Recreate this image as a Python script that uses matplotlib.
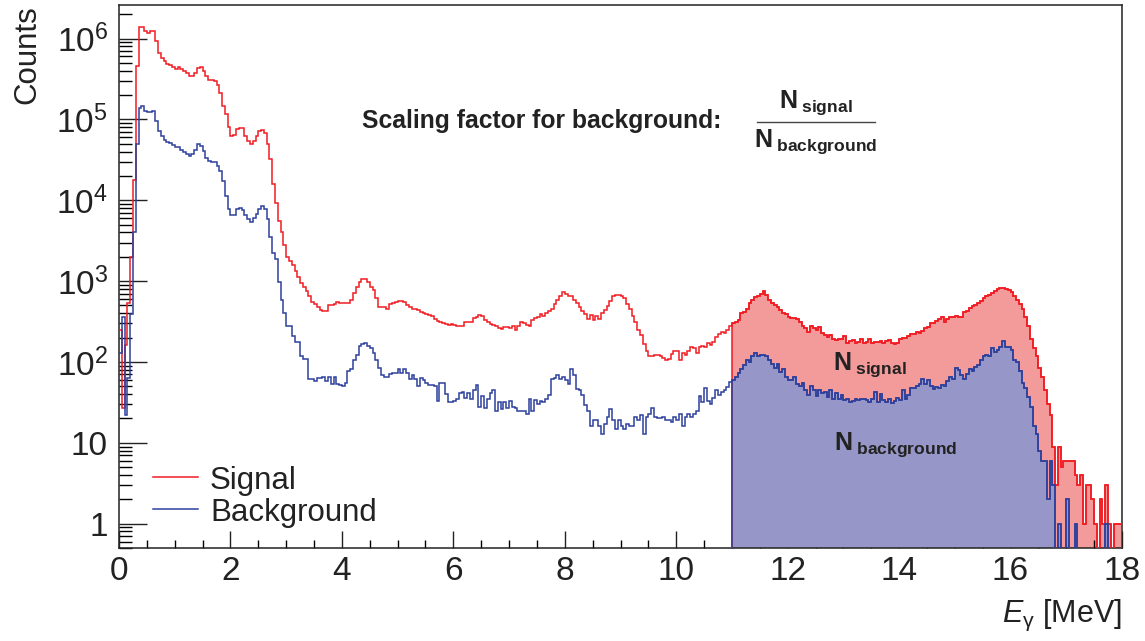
import numpy as np
import matplotlib
matplotlib.use("Agg")
import matplotlib.pyplot as plt
from matplotlib import font_manager
from matplotlib.lines import Line2D
from matplotlib.ticker import LogLocator, MultipleLocator, NullFormatter

# ---------------------------------------------------------------- data
E_MIN, E_MAX, BIN_WIDTH = 0.0, 18.0, 0.05
WINDOW_START = 11.0          # integration window used for the scaling factor

# photon-energy spectra, 0.05 MeV bins from 0 to 18 MeV (20 bins per row = 1 MeV)
signal_counts = [
    250, 27, 160, 540, 2000, 18000, 460000, 1370000, 1370000, 1250000, 1180000, 1250000, 1250000, 930000, 670000, 580000, 530000, 490000, 470000, 440000,
    420000, 440000, 420000, 400000, 370000, 340000, 340000, 370000, 430000, 440000, 400000, 340000, 310000, 305000, 300000, 263000, 214000, 148000, 115000, 81000,
    62000, 65000, 76000, 79000, 79000, 63000, 54000, 49000, 54000, 62000, 72000, 74000, 68000, 49000, 32000, 16000, 9300, 5500, 4000, 2800,
    2000, 1780, 1580, 1320, 1120, 950, 850, 760, 660, 550, 525, 480, 440, 425, 425, 500, 500, 525, 550, 535,
    535, 535, 535, 590, 710, 850, 980, 1050, 1050, 980, 850, 775, 615, 480, 480, 480, 457, 525, 535, 550,
    560, 575, 550, 500, 480, 457, 447, 437, 417, 398, 389, 380, 372, 339, 324, 316, 302, 295, 288, 295,
    288, 275, 275, 275, 316, 309, 316, 347, 355, 380, 372, 331, 309, 295, 288, 275, 263, 257, 269, 269,
    263, 275, 245, 275, 309, 302, 288, 275, 331, 347, 355, 389, 372, 407, 427, 457, 525, 589, 646, 724,
    692, 661, 646, 589, 537, 479, 427, 389, 339, 380, 331, 372, 339, 398, 437, 490, 575, 646, 676, 676,
    646, 617, 525, 447, 372, 309, 251, 214, 166, 135, 117, 117, 123, 123, 117, 112, 107, 110, 126, 138,
    138, 107, 129, 123, 135, 151, 148, 129, 151, 158, 151, 170, 162, 178, 204, 219, 234, 229, 251, 275,
    302, 316, 331, 398, 417, 457, 537, 589, 631, 661, 692, 759, 676, 589, 537, 501, 479, 437, 398, 389,
    355, 347, 347, 339, 316, 282, 263, 234, 275, 263, 245, 269, 229, 214, 204, 214, 191, 186, 195, 195,
    209, 174, 182, 186, 170, 178, 191, 174, 178, 195, 174, 178, 178, 182, 174, 182, 186, 174, 166, 174,
    195, 200, 200, 209, 219, 224, 234, 229, 240, 263, 269, 302, 302, 324, 339, 355, 309, 339, 355, 355,
    372, 355, 363, 417, 427, 468, 490, 501, 537, 575, 617, 646, 676, 708, 759, 794, 813, 813, 794, 776,
    724, 646, 589, 525, 457, 355, 275, 195, 148, 117, 85, 66, 45, 30, 22, 9, 3, 9, 5, 6,
    6, 6, 6, 4, 3, 4, 1, 3, 3, 2, 1, 0, 2, 1, 3, 1, 0, 1, 1, 1,
]

background_counts = [
    130, 360, 22, 63, 390, 4000, 49000, 138000, 148000, 126000, 123000, 123000, 126000, 95000, 72000, 62000, 56000, 52000, 51000, 48000,
    45000, 45000, 42000, 40000, 37000, 35500, 37000, 42000, 49000, 47000, 41000, 33000, 31000, 30000, 29500, 26300, 22900, 17400, 11200, 7900,
    6500, 6600, 7800, 8100, 7600, 6600, 5800, 5400, 6000, 6800, 7800, 8500, 7700, 5800, 3500, 2240, 1900, 980, 590, 400,
    275, 275, 209, 178, 178, 117, 110, 110, 62, 62, 58, 63, 63, 65, 58, 65, 54, 65, 54, 52,
    50, 55, 78, 81, 105, 123, 158, 166, 170, 158, 148, 129, 107, 85, 69, 65, 66, 71, 72, 72,
    83, 74, 83, 72, 62, 69, 62, 50, 63, 60, 55, 52, 52, 50, 33, 55, 55, 40, 32, 32,
    33, 35, 41, 42, 36, 41, 35, 45, 52, 28, 38, 27, 35, 41, 45, 25, 32, 26, 32, 27,
    33, 28, 27, 25, 25, 25, 23, 35, 25, 34, 30, 33, 32, 35, 39, 62, 63, 69, 62, 66,
    60, 54, 81, 69, 46, 45, 39, 29, 25, 16, 19, 19, 16, 13, 17, 21, 26, 19, 15, 19,
    16, 15, 17, 16, 16, 21, 19, 22, 13, 21, 23, 27, 21, 20, 20, 21, 19, 19, 18, 21,
    19, 23, 16, 21, 23, 21, 23, 25, 38, 32, 47, 33, 30, 36, 45, 39, 43, 45, 49, 56,
    60, 65, 74, 81, 91, 105, 100, 117, 129, 117, 123, 123, 117, 105, 95, 85, 95, 76, 83, 66,
    60, 60, 65, 54, 50, 55, 45, 39, 50, 45, 38, 45, 41, 43, 37, 45, 35, 41, 35, 39,
    34, 35, 32, 33, 35, 34, 35, 35, 34, 32, 35, 42, 32, 40, 34, 32, 35, 31, 33, 36,
    34, 45, 35, 39, 47, 47, 50, 54, 62, 54, 60, 50, 46, 49, 47, 52, 50, 58, 66, 62,
    85, 79, 69, 62, 71, 81, 78, 87, 91, 107, 117, 123, 117, 148, 132, 141, 155, 182, 155, 155,
    141, 105, 100, 78, 55, 47, 37, 28, 16, 13, 8, 6, 6, 2, 6, 3, 0, 1, 0, 0,
    2, 0, 0, 1, 0, 0, 0, 0, 0, 0, 0, 0, 0, 0, 1, 0, 0, 0, 0, 0,
]

x_ticks = [0, 2, 4, 6, 8, 10, 12, 14, 16, 18]
y_ticks = [1, 10, 1e2, 1e3, 1e4, 1e5, 1e6]
y_tick_labels = ["1", "10", r"$10^{2}$", r"$10^{3}$", r"$10^{4}$", r"$10^{5}$", r"$10^{6}$"]
legend_labels = ["Signal", "Background"]

# ---------------------------------------------------------------- style
SIG_LINE, SIG_FILL = "#f01c22", "#f39a9a"
BKG_LINE, BKG_FILL = "#2d409c", "#9696c8"
W, H = 1145, 641


def available(name):
    try:
        font_manager.findfont(font_manager.FontProperties(family=name),
                              fallback_to_default=False)
        return True
    except ValueError:
        return False


BASE = "Liberation Sans" if available("Liberation Sans") else "DejaVu Sans"
NARROW = "Liberation Sans Narrow" if available("Liberation Sans Narrow") else BASE

plt.rcParams["font.family"] = [BASE, "DejaVu Sans"]
plt.rcParams["mathtext.fontset"] = "custom"
plt.rcParams["mathtext.rm"] = NARROW
plt.rcParams["mathtext.it"] = BASE + ":italic"
plt.rcParams["mathtext.bf"] = BASE + ":bold"


def fx(px):
    return px / W


def fy(py):
    return 1 - py / H


fig = plt.figure(figsize=(W / 100, H / 100), dpi=100)
ax = fig.add_axes([fx(119), fy(548), fx(1122) - fx(119), fy(5) - fy(548)])

# ---------------------------------------------------------------- histograms
sig = np.asarray(signal_counts, dtype=float)
bkg = np.asarray(background_counts, dtype=float)
edges = E_MIN + BIN_WIDTH * np.arange(len(sig) + 1)
floor = 1e-3                      # empty bins drop below the visible range
sig_d = np.where(sig > 0, sig, floor)
bkg_d = np.where(bkg > 0, bkg, floor)
i0 = int(round((WINDOW_START - E_MIN) / BIN_WIDTH))

ax.stairs(sig_d[i0:], edges[i0:], baseline=floor, fill=True, color=SIG_FILL, lw=0, zorder=1)
ax.stairs(bkg_d[i0:], edges[i0:], baseline=floor, fill=True, color=BKG_FILL, lw=0, zorder=2)
ax.stairs(sig_d[i0:], edges[i0:], baseline=floor, color=SIG_LINE, lw=1.1, zorder=3)
ax.stairs(sig_d, edges, baseline=None, color=SIG_LINE, lw=1.1, zorder=3)
ax.stairs(bkg_d[i0:], edges[i0:], baseline=floor, color=BKG_LINE, lw=1.1, zorder=4)
ax.stairs(bkg_d, edges, baseline=None, color=BKG_LINE, lw=1.1, zorder=4)

# ---------------------------------------------------------------- axes
ax.set_yscale("log")
ax.set_xlim(E_MIN, E_MAX)
ax.set_ylim(0.5, 2.6e6)

ax.set_xticks(x_ticks)
ax.set_xticklabels([str(t) for t in x_ticks], fontfamily=NARROW, fontsize=24)
ax.xaxis.set_minor_locator(MultipleLocator(0.5))
ax.set_yticks(y_ticks)
ax.set_yticklabels(y_tick_labels, fontfamily=NARROW, fontsize=24)
ax.yaxis.set_minor_locator(LogLocator(base=10, subs=np.arange(2, 10), numticks=30))
ax.yaxis.set_minor_formatter(NullFormatter())

ax.tick_params(axis="x", which="major", direction="in", length=12, width=1.0,
               pad=6, top=False, colors="#222222")
ax.tick_params(axis="x", which="minor", direction="in", length=6, width=1.0, top=False)
ax.tick_params(axis="y", which="major", direction="in", length=20, width=1.0,
               pad=8, right=False, colors="#222222")
ax.tick_params(axis="y", which="minor", direction="in", length=9.5, width=1.0, right=False)
for s in ax.spines.values():
    s.set_linewidth(1.1)
    s.set_color("#222222")

# axis titles
fig.text(fx(27), fy(5), "Counts", rotation=90, ha="center", va="top",
         fontsize=22.5, color="#222222")
fig.text(fx(1122), fy(622), r"$\mathit{E}_{\mathrm{\gamma}}$ [MeV]", ha="right",
         va="baseline", fontsize=22, color="#222222")

# legend
for lbl, col, py in zip(legend_labels, [SIG_LINE, BKG_LINE], [477, 509]):
    fig.add_artist(Line2D([fx(153), fx(198)], [fy(py), fy(py)], color=col, lw=1.1))
    fig.text(fx(210), fy(py + 11.5), lbl, ha="left", va="baseline",
             fontsize=22.5, color="#222222")

# annotations
fig.text(fx(542), fy(128), "Scaling factor for background:", ha="center",
         va="baseline", fontsize=17.8, fontweight="bold", color="#222222")
fig.text(fx(816), fy(108), r"$\mathbf{N}_{\;\mathbf{signal}}$", ha="center",
         va="baseline", fontsize=18, color="#222222")
fig.add_artist(Line2D([fx(757), fx(875)], [fy(122), fy(122)], color="#444444", lw=1.0))
fig.text(fx(816), fy(147), r"$\mathbf{N}_{\;\mathbf{background}}$", ha="center",
         va="baseline", fontsize=18, color="#222222")

fig.text(fx(870), fy(370), r"$\mathbf{N}_{\;\mathbf{signal}}$", ha="center",
         va="baseline", fontsize=18, color="#222222")
fig.text(fx(896), fy(450), r"$\mathbf{N}_{\;\mathbf{background}}$", ha="center",
         va="baseline", fontsize=18, color="#222222")

fig.savefig("out.png", dpi=100)
